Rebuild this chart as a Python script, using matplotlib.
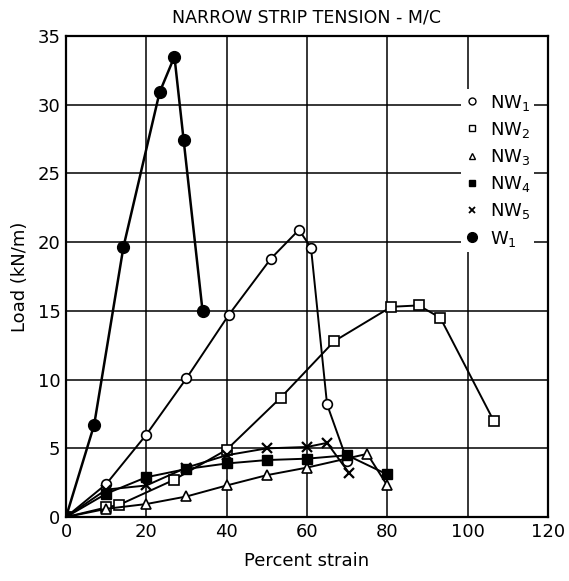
import matplotlib.pyplot as plt
from matplotlib.lines import Line2D

# data (percent strain, load kN/m)
nw1_x = [0, 10, 20, 30, 40.5, 51, 58, 61, 65, 70]
nw1_y = [0, 2.4, 6.0, 10.1, 14.7, 18.8, 20.9, 19.6, 8.2, 4.1]

nw2_x = [0, 10, 13.3, 26.8, 40, 53.5, 66.8, 81, 87.8, 93.2, 106.5]
nw2_y = [0, 0.7, 0.9, 2.7, 4.9, 8.7, 12.8, 15.3, 15.4, 14.5, 7.0]

nw3_x = [0, 10, 20, 30, 40, 50, 60, 75, 80]
nw3_y = [0, 0.6, 0.95, 1.5, 2.3, 3.05, 3.6, 4.6, 2.3]

nw4_x = [0, 10, 20, 30, 40, 50, 60, 70, 80]
nw4_y = [0, 1.7, 2.9, 3.5, 3.9, 4.15, 4.25, 4.5, 3.1]

nw5_x = [0, 10, 20, 30, 40, 50, 60, 65, 70.5]
nw5_y = [0, 2.0, 2.3, 3.6, 4.5, 5.0, 5.1, 5.4, 3.2]

w1_x = [0, 7, 14.3, 23.3, 27, 29.3, 34]
w1_y = [0, 6.7, 19.65, 30.9, 33.5, 27.4, 15.0]

xticks = [0, 20, 40, 60, 80, 100, 120]
yticks = [0, 5, 10, 15, 20, 25, 30, 35]

plt.rcParams['font.family'] = 'DejaVu Sans'

fig = plt.figure(figsize=(5.69, 5.81), dpi=100)
ax = fig.add_axes([0.116, 0.110, 0.847, 0.828])

lw = 1.4
ax.plot(nw1_x, nw1_y, '-o', color='black', lw=lw, ms=7, mfc='white', mec='black', mew=1.2, zorder=3)
ax.plot(nw2_x, nw2_y, '-s', color='black', lw=lw, ms=6.5, mfc='white', mec='black', mew=1.2, zorder=3)
ax.plot(nw3_x, nw3_y, '-^', color='black', lw=lw, ms=7, mfc='white', mec='black', mew=1.2, zorder=3)
ax.plot(nw4_x, nw4_y, '-s', color='black', lw=lw, ms=6.5, mfc='black', mec='black', zorder=3)
ax.plot(nw5_x, nw5_y, '-x', color='black', lw=lw, ms=7, mew=1.6, zorder=3)
ax.plot(w1_x, w1_y, '-o', color='black', lw=1.8, ms=8.5, mfc='black', mec='black', zorder=3)

ax.set_xlim(0, 120)
ax.set_ylim(0, 35)
ax.set_xticks(xticks)
ax.set_yticks(yticks)
ax.tick_params(length=0, labelsize=13, pad=4)
ax.grid(True, color='black', lw=1.1)
for s in ax.spines.values():
    s.set_linewidth(1.6)

ax.set_xlabel('Percent strain', fontsize=13, labelpad=8)
ax.set_ylabel('Load (kN/m)', fontsize=13, labelpad=6)
ax.set_title('NARROW STRIP TENSION - M/C', fontsize=12.5, pad=10)

handles = [
    Line2D([], [], ls='none', marker='o', ms=5, mfc='white', mec='black', mew=1.0),
    Line2D([], [], ls='none', marker='s', ms=5, mfc='white', mec='black', mew=1.0),
    Line2D([], [], ls='none', marker='^', ms=5, mfc='white', mec='black', mew=1.0),
    Line2D([], [], ls='none', marker='s', ms=5, mfc='black', mec='black'),
    Line2D([], [], ls='none', marker='x', ms=5, mec='black', mew=1.3),
    Line2D([], [], ls='none', marker='o', ms=7, mfc='black', mec='black'),
]
labels = ['NW$_1$', 'NW$_2$', 'NW$_3$', 'NW$_4$', 'NW$_5$', 'W$_1$']
leg = ax.legend(handles, labels, loc='upper left', bbox_to_anchor=(0.82, 0.89),
                frameon=True, facecolor='white', edgecolor='none', framealpha=1,
                fancybox=False, fontsize=13, handlelength=0.8, handletextpad=0.6,
                labelspacing=0.4, borderpad=0.2, borderaxespad=0)
leg.set_zorder(5)

fig.savefig('out.png', dpi=100)
